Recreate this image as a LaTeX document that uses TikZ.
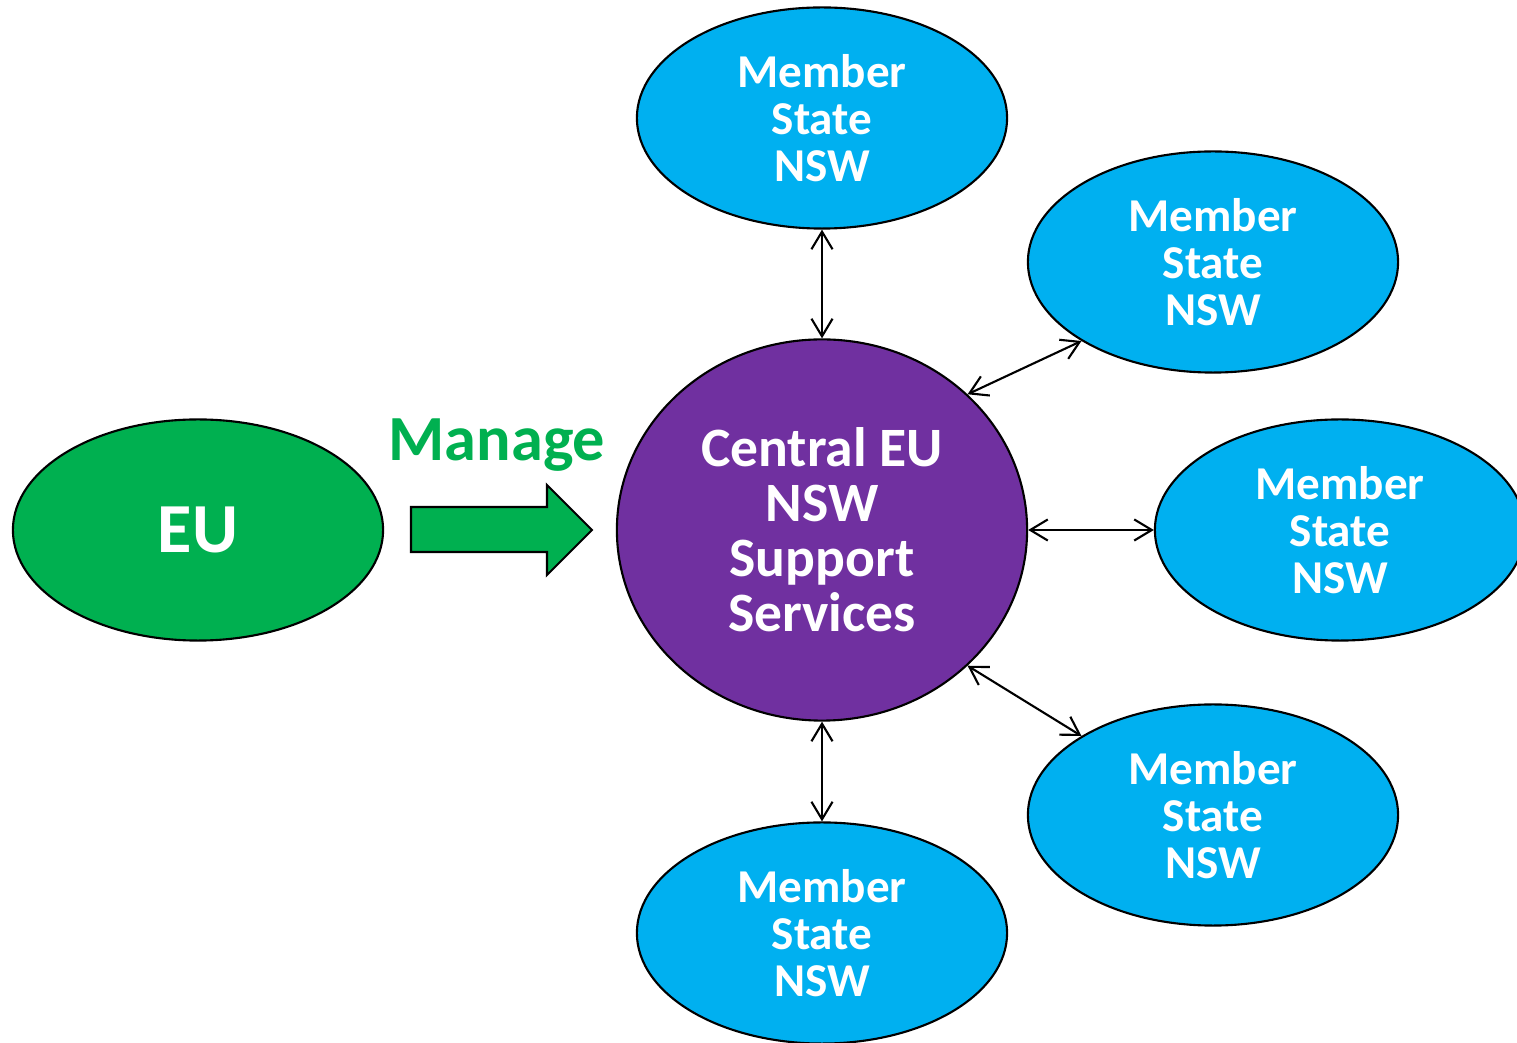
\documentclass[tikz,border=0pt]{standalone}
\usepackage{fontspec}
\setmainfont{Carlito}
\usetikzlibrary{shapes.geometric,arrows.meta}
\definecolor{eugreen}{HTML}{00B050}
\definecolor{msblue}{HTML}{00B0F0}
\definecolor{hubpurple}{HTML}{7030A0}

\begin{document}
\begin{tikzpicture}[x=0.01cm,y=-0.01cm]

\tikzset{state/.style = {ellipse, draw, line width=0.6pt, fill=msblue, text=white, minimum width=3.7cm, minimum height=2.21cm, inner sep=0pt, align=center, font=\bfseries\fontsize{13.4}{13.4}\selectfont}}
\tikzset{link/.style = {{Straight Barb[length=5pt,width=6pt]}-{Straight Barb[length=5pt,width=6pt]}, line width=0.6pt}}
\useasboundingbox (0,0) rectangle (1517,1043);

\node[ellipse, draw, line width=0.6pt, fill=eugreen, text=white, minimum width=3.7cm, minimum height=2.21cm, font=\bfseries\fontsize{20}{22}\selectfont] (eu) at (198,530) {EU};
\node[ellipse, draw, line width=0.6pt, fill=hubpurple, text=white, minimum width=4.1cm, minimum height=3.81cm, inner sep=0pt, align=center, font=\bfseries\fontsize{15.8}{15.6}\selectfont] (hub) at (822,530) {Central EU\\NSW\\Support\\Services};

\node[state] (ms1) at (822,118) {Member\\State\\NSW};
\node[state] (ms2) at (1213,262) {Member\\State\\NSW};
\node[state] (ms3) at (1340,530) {Member\\State\\NSW};
\node[state] (ms4) at (1213,815) {Member\\State\\NSW};
\node[state] (ms5) at (822,933) {Member\\State\\NSW};

% manage arrow
\node[text=eugreen, font=\bfseries\fontsize{18.3}{20}\selectfont] (manage) at (497,445) {Manage};
\draw[line width=0.6pt, fill=eugreen] (411,507) -- (547,507) -- (547,485) -- (592,530) -- (547,575) -- (547,552) -- (411,552) -- cycle;

\draw[link] (hub.north) to (ms1.south);
\draw[link] (hub.43) to (ms2.211);
\draw[link] (hub.east) to (ms3.west);
\draw[link] (hub.-43) to (ms4.149);
\draw[link] (hub.south) to (ms5.north);
\end{tikzpicture}
\end{document}
